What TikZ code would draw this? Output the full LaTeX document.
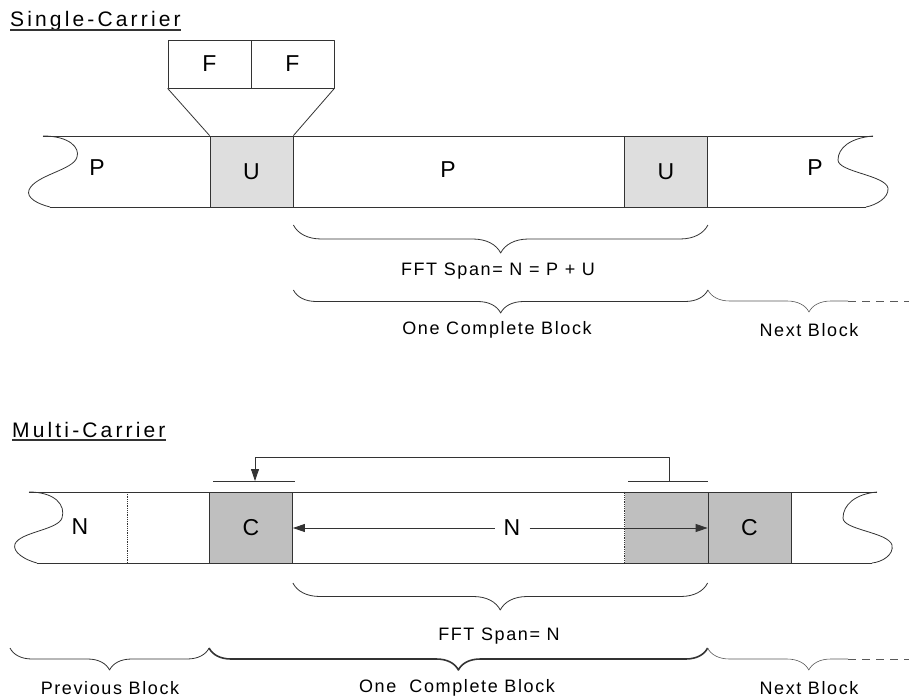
\documentclass[tikz,border=0pt]{standalone}
\usepackage{fontspec}
\setmainfont{Liberation Sans}
\newfontfamily\bracefam[LetterSpace=9]{Liberation Sans}
\newfontfamily\headfam[LetterSpace=15]{Liberation Sans}
\newcommand{\blockfont}{\fontsize{23}{25}\selectfont}
\newcommand{\bracefont}{\bracefam\fontsize{18}{20}\selectfont}
\newcommand{\headerfont}{\headfam\fontsize{21}{23}\selectfont}
\usetikzlibrary{arrows.meta,decorations.pathreplacing}

\begin{document}
\begin{tikzpicture}[x=1pt, y=-1pt, line join=round]
  \tikzset{
    edge/.style={draw=black!80, line width=0.8pt},
    seg/.style={edge, inner sep=0pt, minimum width=83pt, minimum height=71pt, font=\blockfont},
    ubox/.style={seg, fill=black!13},
    cbox/.style={seg, fill=black!25},
    fbox/.style={seg, minimum height=48pt},
    sym/.style={inner sep=0pt, font=\blockfont},
    brc/.style={edge, decorate, decoration={brace, mirror, amplitude=#1}},
    nextbrc/.style={brc=#1, draw=black!65, line width=0.6pt},
    tag/.style={inner sep=0pt, font=\bracefont},
    header/.style={inner sep=0pt, anchor=base west, font=\headerfont},
    tip/.style={edge, -{Triangle[length=12pt, width=8pt]}},
  }
  \useasboundingbox (0,0) rectangle (909,698);

  % ---- Single-carrier ----
  \node[header] (sc) at (10,27) {Single-Carrier};
  \draw[edge, line width=1.2pt] ([yshift=-3pt]sc.base west) -- ([yshift=-3pt]sc.base east);

  % Band edges
  \draw[edge] (43,136) -- (873,136);
  \draw[edge] (50,207) -- (866,207);
  \draw[edge] (43,136) .. controls (70,136) and (80,148) .. (77,157)
              .. controls (74,170) and (35,175) .. (29,190)
              .. controls (26,198) and (38,204) .. (50,207);
  \draw[edge] (873,136) .. controls (850,138) and (838,148) .. (838,160)
              .. controls (838,172) and (885,175) .. (888,188)
              .. controls (889,198) and (876,205) .. (866,207);

  % Unique words and the zoomed F F
  \node[ubox] (u1) at (251.5,171.5) {U};
  \node[ubox] (u2) at (666,171.5) {U};
  \node[fbox] (f1) at (209.5,64) {F};
  \node[fbox] (f2) at (292.5,64) {F};
  \draw[edge] (f1.south west) -- (u1.north west);
  \draw[edge] (f2.south east) -- (u1.north east);

  % Payload
  \node[sym] (p1) at (97,168) {P};
  \node[sym] (p2) at (448,170) {P};
  \node[sym] (p3) at (815,168) {P};

  % Braces
  \draw[brc=28pt] (u1.east |- 0,225) -- (u2.east |- 0,225);
  \node[tag] (fft1) at (498,271) {FFT Span= N = P + U};
  \draw[brc=23pt] (u1.east |- 0,290) -- (u2.east |- 0,290);
  \node[tag] (blk1) at (497,330) {One Complete Block};
  \begin{scope}
    \clip (700,280) rectangle (848,330);
    \draw[nextbrc=22pt] (u2.east |- 0,290) -- (910,290);
  \end{scope}
  \draw[edge, draw=black!65, line width=0.6pt, dash pattern=on 8pt off 6pt] (848,301) -- (909,301);
  \node[tag] (nxt1) at (809,330) {Next Block};

  % ---- Multi-carrier ----
  \node[header] (mc) at (12,437) {Multi-Carrier};
  \draw[edge, line width=1.2pt] ([yshift=-3pt]mc.base west) -- ([yshift=-3pt]mc.base east);

  % Cyclic prefix and its source
  \node[cbox] (c1) at (251,527.5) {C};
  \node[cbox, draw=none] (cp) at (666,527.5) {};
  \node[cbox] (c2) at (749.5,527.5) {C};
  \draw[edge, densely dotted, line width=0.6pt] (cp.north west) -- (cp.south west);

  % Band edges
  \draw[edge] (29,492) -- (877,492);
  \draw[edge] (37,563) -- (872,563);
  \draw[edge, densely dotted, line width=0.6pt] (127,492) -- (127,563);
  \draw[edge] (29,492) .. controls (55,492) and (66,505) .. (62,518)
              .. controls (58,530) and (20,532) .. (15,544)
              .. controls (12,552) and (25,560) .. (37,563);
  \draw[edge] (877,492) .. controls (855,494) and (843,505) .. (843,518)
              .. controls (843,530) and (888,532) .. (892,545)
              .. controls (894,555) and (882,562) .. (872,563);

  % Symbols
  \node[sym] (n1) at (80,527) {N};
  \node[sym, inner sep=9pt] (nspan) at (512,528) {N};
  \draw[tip] (nspan) -- (c1.east |- nspan);
  \draw[tip] (nspan) -- (c2.west |- nspan);

  % Copy of the tail to the front
  \coordinate (ltick) at (255,481);
  \coordinate (rtick) at (669,481);
  \draw[edge] (213,481) -- (295,481);
  \draw[edge] (628,481) -- (708,481);
  \draw[tip] (rtick) -- ++(0,-24) -| (ltick);

  % Braces
  \draw[brc=27pt] (c1.east |- 0,583) -- (c2.west |- 0,583);
  \node[tag] (fft2) at (499,636) {FFT Span= N};
  \draw[brc=22pt] (10,648) -- (c1.west |- 0,648);
  \draw[brc=22pt, line width=1.6pt] (c1.west |- 0,648) -- (c2.west |- 0,648);
  \begin{scope}
    \clip (700,640) rectangle (848,690);
    \draw[nextbrc=22pt] (c2.west |- 0,648) -- (910,648);
  \end{scope}
  \draw[edge, draw=black!65, line width=0.6pt, dash pattern=on 8pt off 6pt] (848,659) -- (909,659);
  \node[tag] (prv) at (110,688) {Previous Block};
  \node[tag] (blk2) at (457,688) {One\ \ Complete Block};
  \node[tag] (nxt2) at (809,688) {Next Block};
\end{tikzpicture}
\end{document}
